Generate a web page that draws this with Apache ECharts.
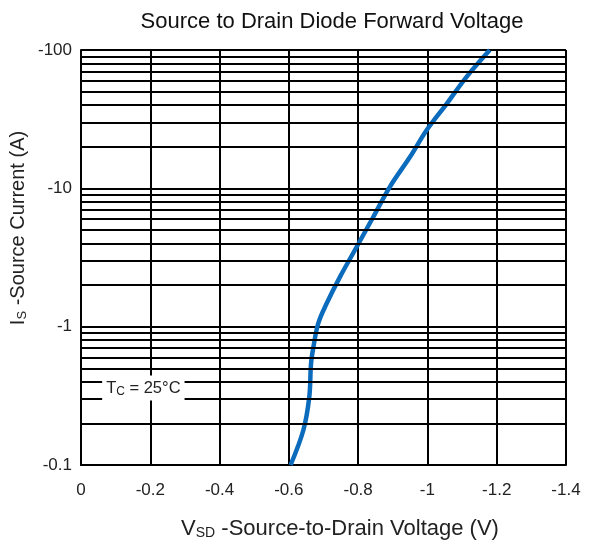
<!DOCTYPE html>
<html><head><meta charset="utf-8">
<script src="https://cdn.jsdelivr.net/npm/echarts@6/dist/echarts.min.js"></script>
<style>html,body{margin:0;padding:0;background:#fff}#c{width:595px;height:547px}</style>
</head><body><div id="c"></div>
<script>
// Source-to-drain voltage (V) and source current magnitude (A, shown as negative)
var vsd = [-0.605, -0.642, -0.659, -0.664, -0.671, -0.685, -0.709, -0.748, -0.796, -0.844, -0.892, -0.95, -0.998, -1.056, -1.113, -1.18];
var isCurrent = [0.1, 0.179, 0.311, 0.54, 0.716, 1.06, 1.47, 2.3, 3.78, 6.23, 10.3, 16.9, 26.4, 41, 64, 100];
var xTicks = [0, -0.2, -0.4, -0.6, -0.8, -1, -1.2, -1.4];
var yTicks = [0.1, 1, 10, 100];
var yMinorGrid = [0.2,0.3,0.4,0.5,0.6,0.7,0.8,0.9,2,3,4,5,6,7,8,9,20,30,40,50,60,70,80,90];

var font = 'Liberation Sans, Arial, sans-serif';
var chart = echarts.init(document.getElementById('c'));
var pts = vsd.map(function(v, i){ return [v, isCurrent[i]]; });
chart.setOption({
  animation: false,
  title: {
    text: 'Source to Drain Diode Forward Voltage',
    left: 327, top: 6, textAlign: 'center',
    textStyle: {fontFamily: font, fontSize: 22, fontWeight: 'normal', color: '#111'}
  },
  grid: {left: 81, right: 29, top: 50, bottom: 82},
  xAxis: {
    type: 'value', min: -1.4, max: 0, interval: 0.2, inverse: true,
    axisLine: {show: true, onZero: false, lineStyle: {color: '#000', width: 2}},
    axisTick: {show: false},
    splitLine: {show: true, lineStyle: {color: '#000', width: 2}},
    axisLabel: {fontFamily: font, fontSize: 17, color: '#222', margin: 17,
      formatter: function(v){ var r = +(+v).toFixed(1); return r === 0 ? '0' : String(r); }}
  },
  yAxis: {
    type: 'log', logBase: 10, min: 0.1, max: 100,
    axisLine: {show: true, lineStyle: {color: '#000', width: 2}},
    axisTick: {show: false},
    splitLine: {show: true, lineStyle: {color: '#000', width: 2}},
    axisLabel: {fontFamily: font, fontSize: 17, color: '#222', margin: 9,
      formatter: function(v){ return '-' + (+v); }}
  },
  series: [
    {
      type: 'line', data: [], silent: true,
      markLine: {
        silent: true, symbol: 'none', label: {show: false},
        lineStyle: {color: '#000', width: 2, type: 'solid'},
        data: yMinorGrid.map(function(v){ return {yAxis: v}; })
      }
    },
    {
      type: 'line', data: pts, smooth: 0.35, symbol: 'none',
      lineStyle: {color: '#0b6bbd', width: 4.5}
    }
  ]
});
var p = chart.convertToPixel({gridIndex: 0}, [-0.18, 0.36]);
chart.setOption({graphic: [
  {
    type: 'text', x: p[0], y: p[1], z: 100,
    style: {
      text: '{m|T}{s|C}{m| = 25°C}', align: 'center', verticalAlign: 'middle',
      backgroundColor: '#fff', padding: [3, 4],
      rich: {
        m: {fontFamily: font, fontSize: 16.5, fill: '#222'},
        s: {fontFamily: font, fontSize: 12, fill: '#222', padding: [7,0,0,0]}
      }
    }
  },
  {
    type: 'text', x: 340, y: 529, z: 100,
    style: {
      text: '{m|V}{s|SD}{m| -Source-to-Drain Voltage (V)}', align: 'center', verticalAlign: 'middle',
      rich: {
        m: {fontFamily: font, fontSize: 22, fill: '#222'},
        s: {fontFamily: font, fontSize: 14, fill: '#222', padding: [8,0,0,0]}
      }
    }
  },
  {
    type: 'text', x: 18, y: 228, rotation: Math.PI / 2, z: 100,
    style: {
      text: '{m|I}{s|S}{m| -Source Current (A)}', align: 'center', verticalAlign: 'middle',
      rich: {
        m: {fontFamily: font, fontSize: 20, fill: '#222'},
        s: {fontFamily: font, fontSize: 13, fill: '#222', padding: [8,0,0,0]}
      }
    }
  }
]});
</script></body></html>
